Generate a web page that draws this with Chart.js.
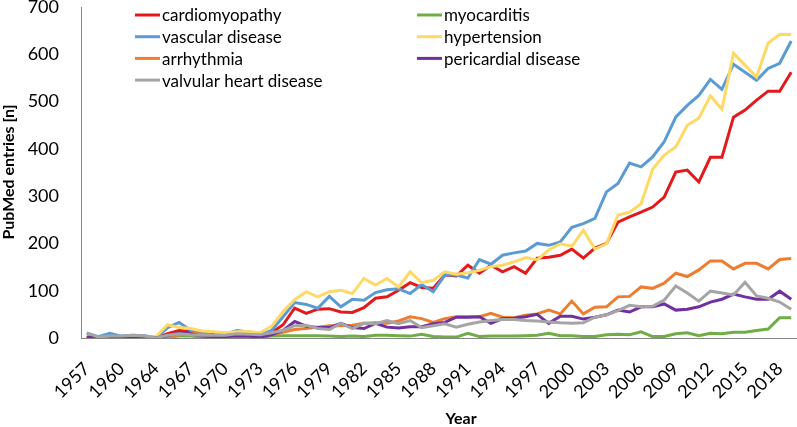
<!DOCTYPE html>
<html>
<head>
<meta charset="utf-8">
<script src="https://cdn.jsdelivr.net/npm/chart.js@4"></script>
<style>
  html, body { margin: 0; padding: 0; background: #fff; }
  #wrap { width: 797px; height: 427px; }
</style>
</head>
<body>
<div id="wrap"><canvas id="chart" width="797" height="427"></canvas></div>
<script>
// years on the category axis (1961 is not in the source series)
const years = [1957,1958,1959,1960,1962,1963,
  1964,1965,1966,1967,1968,1969,1970,1971,1972,1973,1974,1975,
  1976,1977,1978,1979,1980,1981,1982,1983,1984,1985,
  1986,1987,1988,1989,1990,1991,1992,1993,1994,1995,
  1996,1997,1998,1999,2000,2001,2002,2003,2004,2005,
  2006,2007,2008,2009,2010,2011,2012,2013,2014,2015,
  2016,2017,2018,2019];

const cardiomyopathy = [1,1,2,1,2,1,
  0,9,16,14,11,7,4,6,7,5,11,28,
  63,52,61,62,55,54,64,84,87,101,
  117,107,105,133,131,154,137,154,140,151,
  137,169,171,175,188,169,190,200,245,256,
  266,277,298,351,355,330,382,382,467,482,
  503,522,522,562];

const myocarditis = [0,0,1,0,0,1,
  0,2,4,4,2,1,2,2,1,2,4,5,
  5,5,5,4,3,4,3,6,6,5,
  4,8,3,2,2,10,3,4,4,4,
  5,6,10,5,5,3,3,7,8,7,
  13,3,3,9,11,5,10,9,12,12,
  16,19,43,43];

const vascular = [10,3,10,4,6,5,
  0,22,33,16,10,6,8,16,13,6,16,45,
  75,71,63,88,66,82,80,96,102,104,
  94,113,98,133,133,127,166,156,175,180,
  184,200,196,203,234,242,253,309,327,370,
  362,383,415,467,492,513,547,526,579,562,
  545,570,581,628];

const hypertension = [2,1,1,2,1,1,
  3,28,22,20,15,13,11,13,14,11,25,56,
  81,98,87,98,101,94,126,112,126,108,
  140,117,122,140,135,138,143,151,154,161,
  170,165,186,199,194,228,188,199,260,266,
  284,357,387,404,450,465,512,484,602,577,
  552,624,642,642];

const arrhythmia = [1,0,1,0,2,3,
  1,2,7,10,8,5,4,8,6,5,8,12,
  18,20,23,26,26,27,31,32,31,36,
  45,41,33,41,45,45,45,52,44,43,
  48,51,59,51,78,51,65,66,87,88,
  108,105,116,137,130,144,163,163,146,158,
  158,146,166,168];

const pericardial = [2,1,1,1,2,1,
  0,5,11,9,4,3,3,5,4,2,7,16,
  35,25,22,22,31,22,20,31,23,21,
  24,24,30,33,44,44,45,31,41,42,
  45,50,31,46,46,40,44,49,59,55,
  66,66,72,59,61,66,76,82,93,87,
  82,82,99,82];

const valvular = [11,2,4,4,6,4,
  0,6,9,7,6,6,6,9,8,7,11,16,
  26,27,20,18,31,20,31,30,37,30,
  37,22,26,30,23,29,34,37,39,39,
  37,36,34,32,31,32,44,49,58,69,
  66,67,80,110,95,78,99,95,91,118,
  89,84,76,61];

const seriesNames = ["cardiomyopathy", "myocarditis", "vascular disease", "hypertension",
  "arrhythmia", "pericardial disease", "valvular heart disease"];
const seriesData = [cardiomyopathy, myocarditis, vascular, hypertension, arrhythmia, pericardial, valvular];
const seriesColors = ["#e3191c", "#70ad47", "#5b9bd5", "#ffd966", "#ed7d31", "#7030a0", "#a5a5a5"];

const FONT = "Lato, 'Open Sans', sans-serif";

// leyenda en dos columnas + titulos de ejes, dibujados a mano
const extrasPlugin = {
  id: "extras",
  afterDraw(chart) {
    const ctx = chart.ctx;
    ctx.save();
    const colX = [135, 417];
    const rowY0 = 15, rowStep = 21.7;
    ctx.font = "17px " + FONT;
    ctx.textBaseline = "middle";
    ctx.textAlign = "left";
    chart.data.datasets.forEach((ds, i) => {
      const x = colX[i % 2];
      const y = rowY0 + Math.floor(i / 2) * rowStep;
      ctx.strokeStyle = ds.borderColor;
      ctx.lineWidth = 3;
      ctx.beginPath();
      ctx.moveTo(x, y);
      ctx.lineTo(x + 25, y);
      ctx.stroke();
      ctx.fillStyle = "#000";
      ctx.fillText(ds.label, x + 27, y + 1);
    });

    // titulos
    ctx.font = "bold 16px " + FONT;
    ctx.textAlign = "center";
    ctx.fillText("Year", 461, 419);
    ctx.translate(9, 172);
    ctx.rotate(-Math.PI / 2);
    ctx.fillText("PubMed entries [n]", 0, 0);
    ctx.restore();
  }
};

const datasets = seriesNames.map((name, i) => ({
  label: name,
  data: seriesData[i],
  borderColor: seriesColors[i],
  backgroundColor: seriesColors[i],
  borderWidth: 3,
  pointRadius: 0,
  tension: 0,
  fill: false,
  order: seriesNames.length - i
}));

new Chart(document.getElementById("chart"), {
  type: "line",
  data: { labels: years, datasets },
  options: {
    responsive: false,
    animation: false,
    layout: { padding: 0 },
    plugins: {
      legend: { display: false },
      tooltip: { enabled: false }
    },
    scales: {
      x: {
        type: "category",
        offset: true,
        grid: { display: false },
        border: { display: true, color: "#868686", width: 1 },
        ticks: {
          color: "#000",
          font: { family: FONT, size: 18 },
          autoSkip: false,
          minRotation: 45,
          maxRotation: 45,
          padding: 12,
          callback: function (val, index) {
            return index % 3 === 0 ? this.getLabelForValue(val) : null;
          }
        },
        afterFit(scale) {
          scale.height = 89;
          scale.paddingRight = 0;
        }
      },
      y: {
        min: 0,
        max: 700,
        grid: { display: false },
        border: { display: true, color: "#868686", width: 1 },
        ticks: {
          stepSize: 100,
          color: "#000",
          font: { family: FONT, size: 18 },
          padding: 14
        },
        afterFit(scale) {
          scale.width = 81;
          scale.paddingTop = 7;
          scale.paddingBottom = 0;
        }
      }
    }
  },
  plugins: [extrasPlugin]
});
</script>
</body>
</html>
